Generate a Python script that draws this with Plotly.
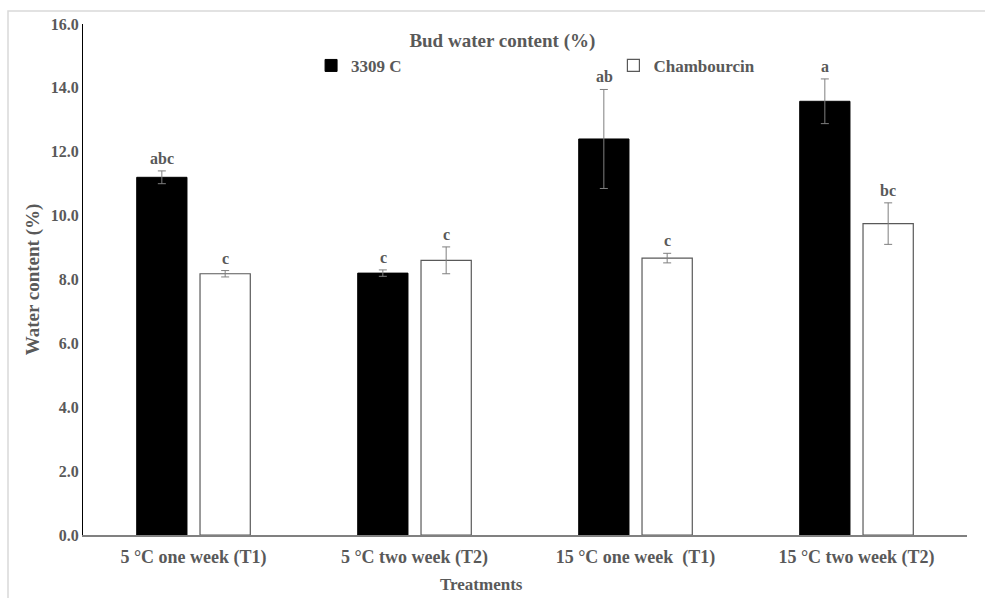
import plotly.graph_objects as go

categories = ["5 \u00b0C one week (T1)", "5 \u00b0C two week (T2)", "15 \u00b0C one week  (T1)", "15 \u00b0C two week (T2)"]
series_names = ["3309 C", "Chambourcin"]
vals_3309 = [11.2, 8.2, 12.4, 13.58]
err_3309 = [0.2, 0.1, 1.55, 0.7]
vals_champ = [8.18, 8.6, 8.67, 9.75]
err_champ = [0.1, 0.42, 0.15, 0.65]
letters_3309 = ["abc", "c", "ab", "a"]
letters_champ = ["c", "c", "c", "bc"]
y_ticks = [0, 2, 4, 6, 8, 10, 12, 14, 16]

FONT = "Liberation Serif, Times New Roman, serif"
TXT = "#595959"

fig = go.Figure()
fig.add_trace(go.Bar(
    name=series_names[0], x=categories, y=vals_3309, legend="legend", showlegend=True,
    marker=dict(color="black", line=dict(color="black", width=1)),
    error_y=dict(type="data", array=err_3309, color="#7f7f7f", thickness=1, width=4),
))
fig.add_trace(go.Bar(
    name=series_names[1], x=categories, y=vals_champ, legend="legend2", showlegend=True,
    marker=dict(color="white", line=dict(color="#595959", width=1.2)),
    error_y=dict(type="data", array=err_champ, color="#7f7f7f", thickness=1, width=4),
))

ann = []
for cat, v, e, l in zip(categories, vals_3309, err_3309, letters_3309):
    ann.append(dict(x=cat, y=v + e, text=l, showarrow=False, xshift=-31.5,
                    yanchor="bottom", yshift=2, font=dict(family=FONT, size=16, color=TXT, weight="bold")))
for cat, v, e, l in zip(categories, vals_champ, err_champ, letters_champ):
    ann.append(dict(x=cat, y=v + e, text=l, showarrow=False, xshift=31.5,
                    yanchor="bottom", yshift=2, font=dict(family=FONT, size=16, color=TXT, weight="bold")))
ann.append(dict(x=(481 - 83) / 884, y=-(585 - 535) / 511, xref="paper", yref="paper",
                text="Treatments", showarrow=False, xanchor="center", yanchor="middle",
                font=dict(family=FONT, size=17, color=TXT, weight="bold")))

leg_common = dict(orientation="h", yanchor="middle", xanchor="left", bgcolor="rgba(0,0,0,0)",
                  visible=True, font=dict(family=FONT, size=17, color=TXT, weight="bold"))

fig.update_layout(
    width=985, height=598,
    margin=dict(l=83, r=18, t=24, b=63, autoexpand=False),
    paper_bgcolor="white", plot_bgcolor="white",
    barmode="group", bargap=0.427, bargroupgap=0.206,
    showlegend=True,
    font=dict(family=FONT, color=TXT),
    title=dict(text="Bud water content (%)", x=0.51, xanchor="center",
               y=0.933, yanchor="middle", font=dict(family=FONT, size=19, color=TXT, weight="bold")),
    legend=dict(x=0.258, y=0.918, **leg_common),
    legend2=dict(x=0.6, y=0.918, **leg_common),
    annotations=ann,
    xaxis=dict(showline=True, linecolor="#808080", linewidth=1.5, ticks="", showgrid=False,
               ticklabelstandoff=5,
               tickfont=dict(family=FONT, size=18, color=TXT, weight="bold")),
    yaxis=dict(range=[0, 16], tickvals=y_ticks, ticktext=[f"{t:.1f}" for t in y_ticks],
               showline=True, linecolor="black", linewidth=1, ticks="", showgrid=False,
               zeroline=False, tickfont=dict(family=FONT, size=16, color=TXT, weight="bold"),
               title=dict(text="Water content (%)", standoff=6,
                          font=dict(family=FONT, size=19, color=TXT, weight="bold"))),
    shapes=[dict(type="rect", xref="paper", yref="paper",
                 x0=(8 - 83) / 884, x1=(1000 - 83) / 884,
                 y0=-0.2, y1=1 + (24 - 11) / 511,
                 line=dict(color="#d9d9d9", width=1.5), fillcolor="rgba(0,0,0,0)", layer="below")],
)

fig.write_html("out.html")
